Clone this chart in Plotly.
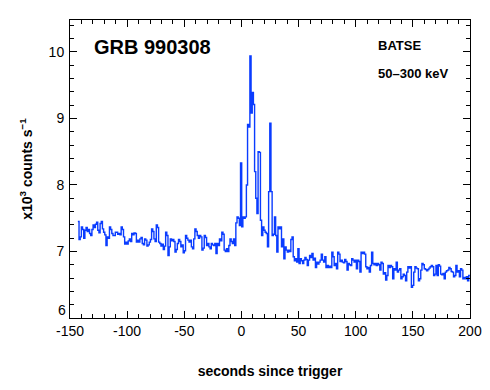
import plotly.graph_objects as go

# ---- data (BATSE 50-300 keV rates, x10^3 counts/s), 1.024 s bins ----
bin_width = 1.024
t_first = -143.12

rate_pre = [
    7.45, 7.18, 7.22, 7.37, 7.33, 7.20, 7.32, 7.36, 7.30, 7.33,
    7.27, 7.24, 7.33, 7.40, 7.36, 7.41, 7.44, 7.32, 7.28, 7.42,
    7.45, 7.34, 7.29, 7.25, 7.09, 7.22, 7.20, 7.37, 7.33, 7.27,
    7.24, 7.24, 7.29, 7.29, 7.26, 7.27, 7.25, 7.37, 7.33, 7.22,
    7.11, 7.14, 7.11, 7.16, 7.19, 7.15, 7.27, 7.25, 7.28, 7.27,
    7.14, 7.17, 7.14, 7.19, 7.21, 7.12, 7.10, 7.19, 7.17, 7.08,
    7.10, 7.14, 7.18, 7.34, 7.30, 7.19, 7.15, 7.40, 7.36, 7.14,
    7.12, 7.08, 7.11, 7.03, 7.08, 7.29, 7.24, 6.94, 7.07, 7.19,
    7.16, 7.18, 7.15, 6.99, 7.03, 7.12, 7.18, 7.15, 7.07, 7.10,
    6.98, 7.01, 7.24, 7.20, 7.17, 7.14, 7.17, 7.07, 7.04, 7.19,
    7.34, 7.30, 7.24, 7.20, 7.24, 7.22, 7.02, 7.05, 7.24, 7.21,
    7.09, 7.12, 7.07, 7.04, 7.12, 7.10, 7.09, 7.12, 6.97, 7.12,
    7.09, 7.19, 7.16, 7.29, 7.26, 7.02, 7.00, 7.04, 7.00, 7.09,
]

rate_burst = [
    7.19, 7.15, 7.12, 7.19, 7.09, 7.43, 7.52, 7.50, 7.39, 8.33,
    7.37, 7.52, 7.50, 7.52, 8.00, 8.91, 8.87, 9.94, 9.08, 9.39,
    9.21, 8.20, 7.80, 7.57, 8.50, 8.49, 7.47, 7.24, 7.37, 7.32,
    7.29, 7.27, 7.07, 7.90, 8.93, 7.90, 7.24, 7.26, 7.52,
]

rate_post = [
    7.24, 6.99, 7.37, 7.34, 7.37, 7.07, 7.19, 6.89, 7.07, 7.02,
    6.99, 7.02, 7.00, 7.18, 7.22, 6.92, 6.86, 6.89, 6.84, 7.04,
    6.82, 6.89, 6.86, 6.82, 6.87, 6.91, 6.88, 6.79, 6.87, 6.94,
    6.91, 6.97, 6.87, 6.90, 6.76, 6.84, 6.81, 6.84, 6.87, 6.96,
    6.87, 6.84, 6.92, 6.76, 6.79, 6.76, 6.78, 6.76, 6.99, 6.92,
    6.79, 6.82, 6.74, 6.99, 6.96, 6.85, 6.87, 6.84, 6.83, 6.88,
    6.85, 6.72, 6.82, 6.80, 6.79, 6.89, 6.87, 6.84, 6.87, 6.74,
    6.87, 6.85, 6.69, 6.99, 6.97, 6.99, 6.96, 6.77, 6.74, 6.76,
    6.69, 6.79, 6.99, 6.82, 6.80, 6.82, 6.79, 6.82, 6.80, 6.72,
    6.84, 6.82, 6.66, 6.68, 6.57, 6.64, 6.79, 6.76, 6.79, 6.77,
    6.59, 6.74, 6.72, 6.84, 6.69, 6.72, 6.74, 6.59, 6.62, 6.66,
    6.64, 6.56, 6.69, 6.77, 6.75, 6.77, 6.46, 6.49, 6.69, 6.77,
    6.75, 6.74, 6.56, 6.59, 6.72, 6.82, 6.80, 6.74, 6.73, 6.71,
    6.73, 6.75, 6.77, 6.79, 6.77, 6.64, 6.66, 6.79, 6.64, 6.80,
    6.78, 6.66, 6.65, 6.67, 6.59, 6.69, 6.71, 6.72, 6.76, 6.74,
    6.70, 6.69, 6.62, 6.64, 6.79, 6.69, 6.71, 6.62, 6.74, 6.72,
    6.59, 6.61, 6.59, 6.62, 6.56, 6.64,
]

x_ticks = [-150, -100, -50, 0, 50, 100, 150, 200]
y_ticks = [6, 7, 8, 9, 10]

rates = rate_pre + rate_burst + rate_post
edges = [t_first + bin_width * i for i in range(len(rates) + 1)]
ys = rates + [rates[-1]]

blue = "#0a3cff"
font_family = "Liberation Sans, Arial, sans-serif"

fig = go.Figure()
fig.add_trace(go.Scatter(
    x=edges, y=ys, mode="lines", line=dict(shape="hv", color=blue, width=1.4),
    showlegend=False, hoverinfo="skip",
))

axis_common = dict(
    showline=True, linecolor="black", linewidth=1, mirror="allticks",
    ticks="inside", ticklen=7, tickwidth=1, tickcolor="black",
    showgrid=False, zeroline=False, automargin=False,
    tickfont=dict(family=font_family, size=14, color="black"),
)

fig.update_xaxes(
    range=[-150, 200], tickvals=x_ticks, ticktext=[str(v) for v in x_ticks],
    minor=dict(dtick=10, ticks="inside", ticklen=4, tickcolor="black", showgrid=False),
    title=dict(text="<b>seconds since trigger</b>",
               font=dict(family=font_family, size=14, color="black"), standoff=28),
    **axis_common,
)
# lowest y label ("6") is drawn as an annotation lifted slightly, as in the original
fig.update_yaxes(
    range=[6, 10.48], tickvals=y_ticks,
    ticktext=["" if v == y_ticks[0] else str(v) for v in y_ticks],
    minor=dict(dtick=0.2, ticks="inside", ticklen=4, tickcolor="black", showgrid=False),
    title=dict(text="<b>x10<sup>3</sup> counts s<sup>−1</sup></b>",
               font=dict(family=font_family, size=14, color="black"), standoff=12),
    ticklabelstandoff=2,
    **axis_common,
)
fig.add_annotation(text=str(y_ticks[0]), xref="paper", yref="y",
                   x=0, y=y_ticks[0], xanchor="right", yanchor="middle",
                   xshift=-2, yshift=8, showarrow=False,
                   font=dict(family=font_family, size=14, color="black"))

fig.add_annotation(text="<b>GRB 990308</b>", xref="paper", yref="paper",
                   x=0.055, y=0.91, xanchor="left", yanchor="middle", showarrow=False,
                   font=dict(family=font_family, size=20, color="black"))
fig.add_annotation(text="<b>BATSE</b>", xref="paper", yref="paper",
                   x=0.765, y=0.915, xanchor="left", yanchor="middle", showarrow=False,
                   font=dict(family=font_family, size=13, color="black"))
fig.add_annotation(text="<b>50–300 keV</b>", xref="paper", yref="paper",
                   x=0.765, y=0.82, xanchor="left", yanchor="middle", showarrow=False,
                   font=dict(family=font_family, size=13, color="black"))

fig.update_layout(
    width=490, height=390,
    margin=dict(l=70, r=20, t=20, b=72),
    paper_bgcolor="white", plot_bgcolor="white",
)

fig.write_html("out.html", config={"displayModeBar": False},
               post_script="document.body.style.margin='0px';")
